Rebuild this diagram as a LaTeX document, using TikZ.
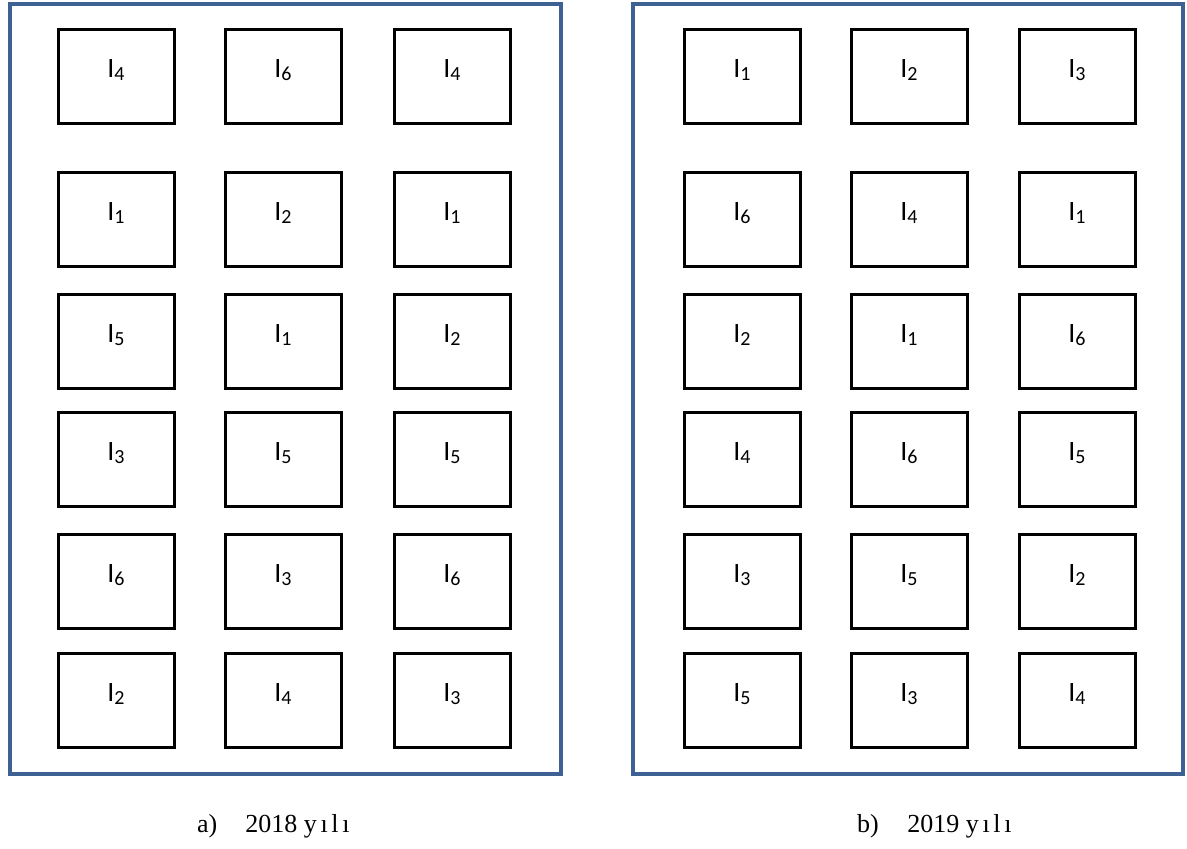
\documentclass[tikz,border=0pt]{standalone}
\usepackage{fontspec}
\setmainfont{Liberation Serif}
\newfontfamily\boxfont{Carlito}
\definecolor{frameblue}{RGB}{61,97,146}
\newcommand{\itm}[1]{I\raisebox{-3pt}{\fontsize{20}{20}\selectfont #1}}
\newcommand{\yil}{{\addfontfeature{LetterSpace=14}yılı}}
\tikzset{
  frame/.style={draw=frameblue,line width=4.5pt},
  cell/.style={draw,line width=3pt,minimum width=116pt,minimum height=94pt,
    inner sep=0pt,font=\boxfont\fontsize{28}{28}\selectfont,
    text height=18pt,text depth=16pt},
  capline/.style={anchor=base west,inner sep=0pt,font=\fontsize{26}{26}\selectfont}
}
\begin{document}
\begin{tikzpicture}[x=1pt,y=-1pt]
\useasboundingbox (0,0) rectangle (1187,849);
\draw[frame] (10,4) rectangle (561,774);
\draw[frame] (633,4) rectangle (1183,774);
% 2018
\foreach \y/\ra/\rb/\rc [count=\r] in {76/4/6/4,219/1/2/1,341/5/1/2,459/3/5/5,581/6/3/6,700/2/4/3}{
  \node[cell] (a\r1) at (116,\y) {\itm{\ra}};
  \node[cell] (a\r2) at (283,\y) {\itm{\rb}};
  \node[cell] (a\r3) at (452,\y) {\itm{\rc}};
}
% 2019
\foreach \y/\ra/\rb/\rc [count=\r] in {76/1/2/3,219/6/4/1,341/2/1/6,459/4/6/5,581/3/5/2,700/5/3/4}{
  \node[cell] (b\r1) at (742,\y) {\itm{\ra}};
  \node[cell] (b\r2) at (909,\y) {\itm{\rb}};
  \node[cell] (b\r3) at (1077,\y) {\itm{\rc}};
}
\node[capline] (capA) at (197,832) {a)\hspace{1.08em}2018 \yil};
\node[capline] (capB) at (857,832) {b)\hspace{1.1em}2019 \yil};
\end{tikzpicture}
\end{document}
